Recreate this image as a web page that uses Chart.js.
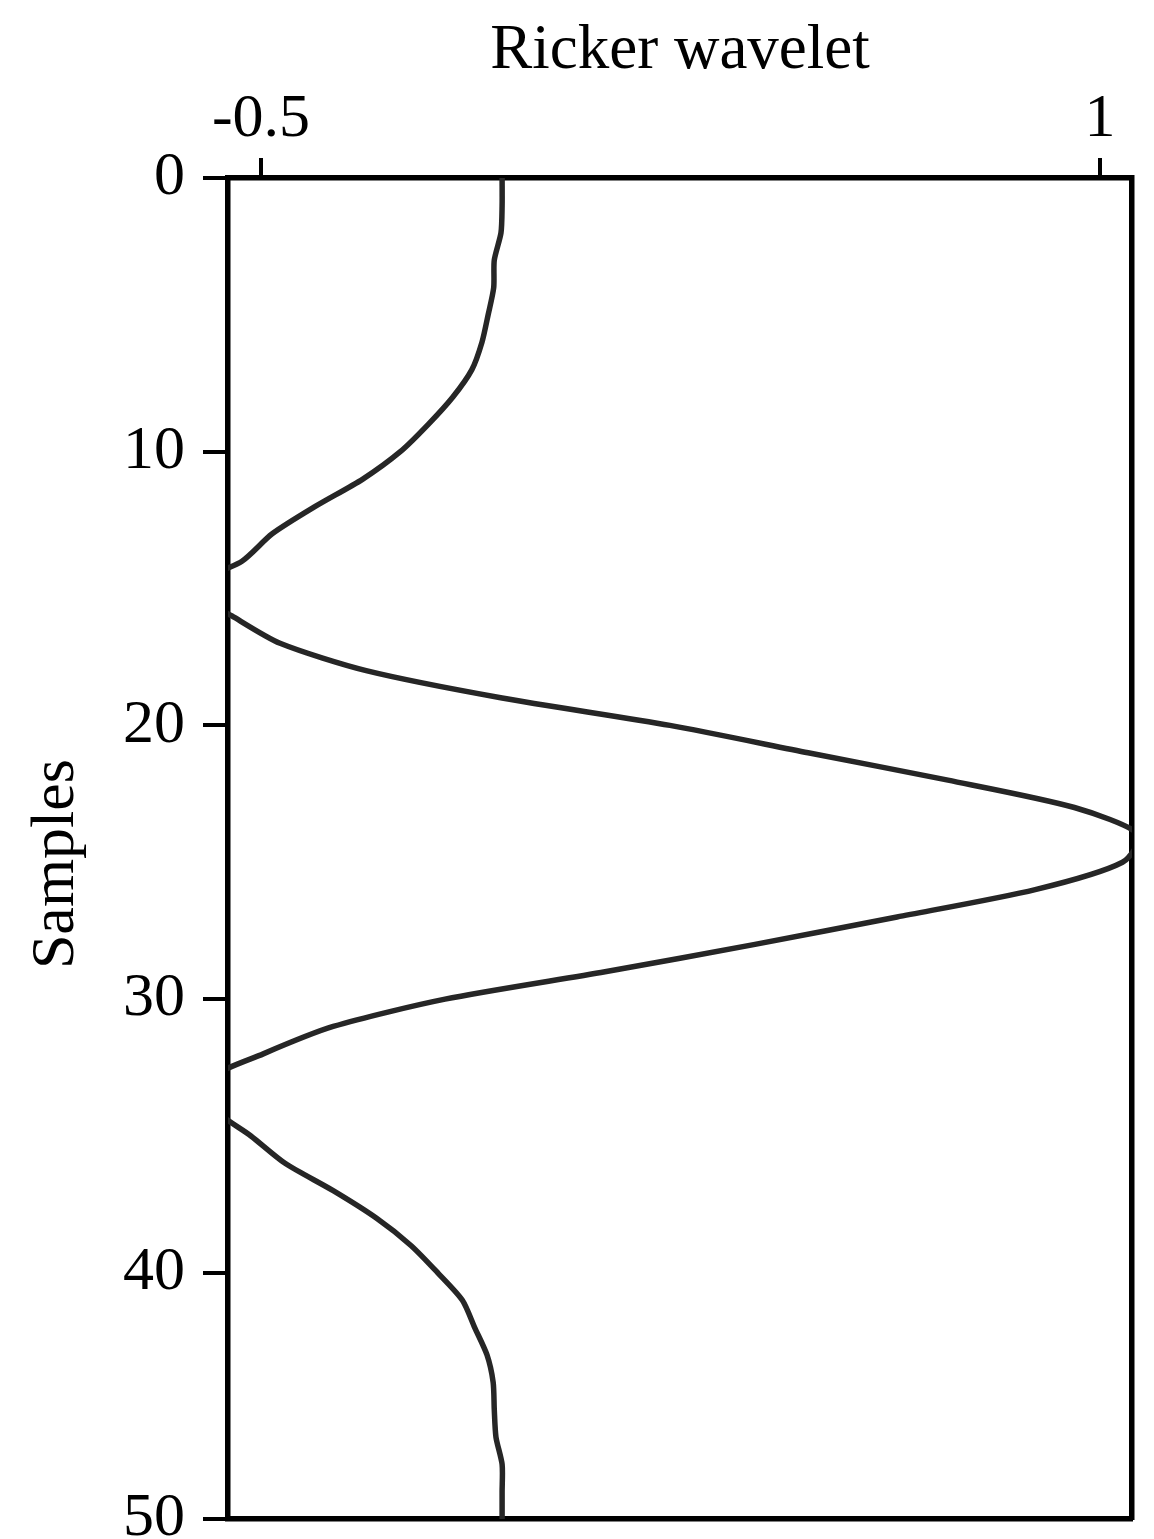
<!DOCTYPE html>
<html>
<head>
<meta charset="utf-8">
<script src="https://cdn.jsdelivr.net/npm/chart.js@4"></script>
<style>
  body { margin: 0; background: #fff; }
</style>
</head>
<body>
<canvas id="chart" width="1154" height="1539"></canvas>
<script>
// samples down the vertical axis, amplitude
var samples = [0, 1, 2, 3, 4, 5, 6, 7, 8, 9,
	10, 11, 12, 13, 14, 15, 16, 17, 18, 19,
	20, 21, 22, 23, 24, 25, 26, 27, 28, 29,
	30, 31, 32, 33, 34, 35, 36, 37, 38, 39,
	40, 41, 42, 43, 44, 45, 46, 47, 48, 49];
var ricker = [-0.069, -0.069, -0.071, -0.083, -0.084, -0.094, -0.105, -0.123, -0.157, -0.201,
	-0.251, -0.318, -0.403, -0.480, -0.534, -0.630, -0.552, -0.466, -0.312, -0.069,
	0.231, 0.478, 0.728, 0.954, 1.070, 1.040, 0.884, 0.637, 0.383, 0.115,
	-0.171, -0.371, -0.496, -0.600, -0.585, -0.518, -0.457, -0.371, -0.294, -0.232,
	-0.184, -0.140, -0.118, -0.096, -0.085, -0.083, -0.080, -0.069, -0.069, -0.069];

var xTicks = [-0.5, 1];
var xTickLabels = ['-0.5', '1'];
var yTicks = [0, 10, 20, 30, 40, 49];
var yTickLabels = ['0', '10', '20', '30', '40', '50'];

var serif = '"Liberation Serif", "Times New Roman", serif';

var points = [];
for (var i = 0; i < samples.length; i++) {
	points[i] = { x: ricker[i], y: samples[i] };
}

var ctx = document.getElementById('chart').getContext('2d');
var wavelet = new Chart(ctx, {
	type: 'scatter',
	data: {
		datasets: [{
			data: points,
			showLine: true,
			borderColor: '#262626',
			borderWidth: 5.5,
			pointRadius: 0,
			tension: 0.25
		}]
	},
	options: {
		responsive: false,
		animation: false,
		layout: { padding: { left: 0, top: 0, right: 22, bottom: 0 } },
		plugins: {
			legend: { display: false },
			tooltip: { enabled: false }
		},
		scales: {
			x: {
				type: 'linear',
				position: 'top',
				min: -0.559,
				max: 1.057,
				afterBuildTicks: function(scale) {
					scale.ticks = xTicks.map(function(v) { return { value: v }; });
				},
				afterFit: function(scale) { scale.height = 178; },
				ticks: {
					color: '#000',
					font: { family: serif, size: 62 },
					padding: 1,
					maxRotation: 0,
					callback: function(v) { return xTickLabels[xTicks.indexOf(v)]; }
				},
				grid: { drawOnChartArea: false, tickLength: 20, lineWidth: 4, color: '#000' },
				border: { color: '#000', width: 5.5 },
				title: {
					display: true,
					text: 'Ricker wavelet',
					color: '#000',
					font: { family: serif, size: 63 },
					padding: { top: 14, bottom: 0 }
				}
			},
			y: {
				type: 'linear',
				position: 'left',
				reverse: true,
				min: 0,
				max: 49,
				afterBuildTicks: function(scale) {
					scale.ticks = yTicks.map(function(v) { return { value: v }; });
				},
				afterFit: function(scale) { scale.width = 228; },
				ticks: {
					color: '#000',
					font: { family: serif, size: 62, lineHeight: 0.06 },
					padding: 18,
					callback: function(v) { return yTickLabels[yTicks.indexOf(v)]; }
				},
				grid: { drawOnChartArea: false, tickLength: 25, lineWidth: 4, color: '#000' },
				border: { color: '#000', width: 5.5 },
				title: {
					display: true,
					text: 'Samples\u00a0\u00a0',
					color: '#000',
					font: { family: serif, size: 62 },
					padding: { top: 20, bottom: 0 }
				}
			},
			x2: {
				type: 'linear',
				position: 'bottom',
				afterFit: function(scale) { scale.height = 0; },
				ticks: { display: false },
				grid: { drawOnChartArea: false, drawTicks: false },
				border: { color: '#000', width: 5.5 }
			},
			y2: {
				type: 'linear',
				position: 'right',
				afterFit: function(scale) { scale.width = 0; },
				ticks: { display: false },
				grid: { drawOnChartArea: false, drawTicks: false },
				border: { color: '#000', width: 5.5 }
			}
		}
	}
});
</script>
</body>
</html>
